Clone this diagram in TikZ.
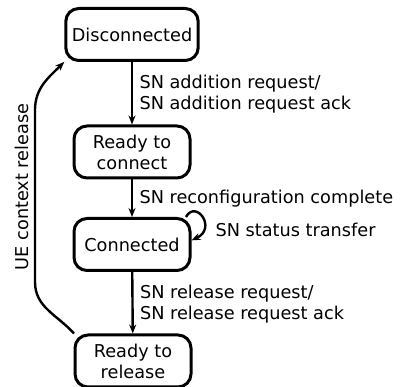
\documentclass[tikz,border=0pt]{standalone}
\usepackage{fontspec}
\setmainfont{DejaVu Sans}
\usetikzlibrary{arrows.meta}

\begin{document}
\begin{tikzpicture}
  [x=1pt,y=-1pt,
   every node/.style={font=\fontsize{17.7}{21}\selectfont},
   state/.style={draw,line width=3pt,rounded corners=13pt,align=center,
     minimum width=116pt,minimum height=52pt,inner xsep=6pt},
   trans/.style={line width=2.4pt,-{Stealth[length=9pt,width=7pt]}},
   lbl/.style={right,align=left,xshift=3pt}]
  \useasboundingbox (0,0) rectangle (400,387);

  \node[state] (dis) at (132,34.5) {Disconnected};
  \node[state] (rtc) at (132,152)  {Ready to\\connect};
  \node[state] (con) at (132,244.5) {Connected};
  \node[state] (rtr) at (133,361)  {Ready to\\release};

  \draw[trans] (dis) -- (rtc) node[lbl,midway,yshift=-1pt] (add) {SN addition request/\\SN addition request ack};
  \draw[trans] (rtc) -- (con) node[lbl,midway] (rec) {SN reconfiguration complete};
  \draw[trans] (con) -- (rtr) node[lbl,midway,yshift=-1pt] (rel) {SN release request/\\SN release request ack};

  % status transfer loop
  \draw[trans] (con.27) .. controls +(10,-18) and +(26,-12) .. (con.4);
  \node[right] (sta) at (212,230) {SN status transfer};

  % back to disconnected
  \draw[trans] (rtr.155) to[out=132,in=-90] (35,282) -- (35,110) to[out=90,in=225] (dis.202);
  \node[rotate=90] (ue) at (22,187) {UE context release};

\end{tikzpicture}
\end{document}
